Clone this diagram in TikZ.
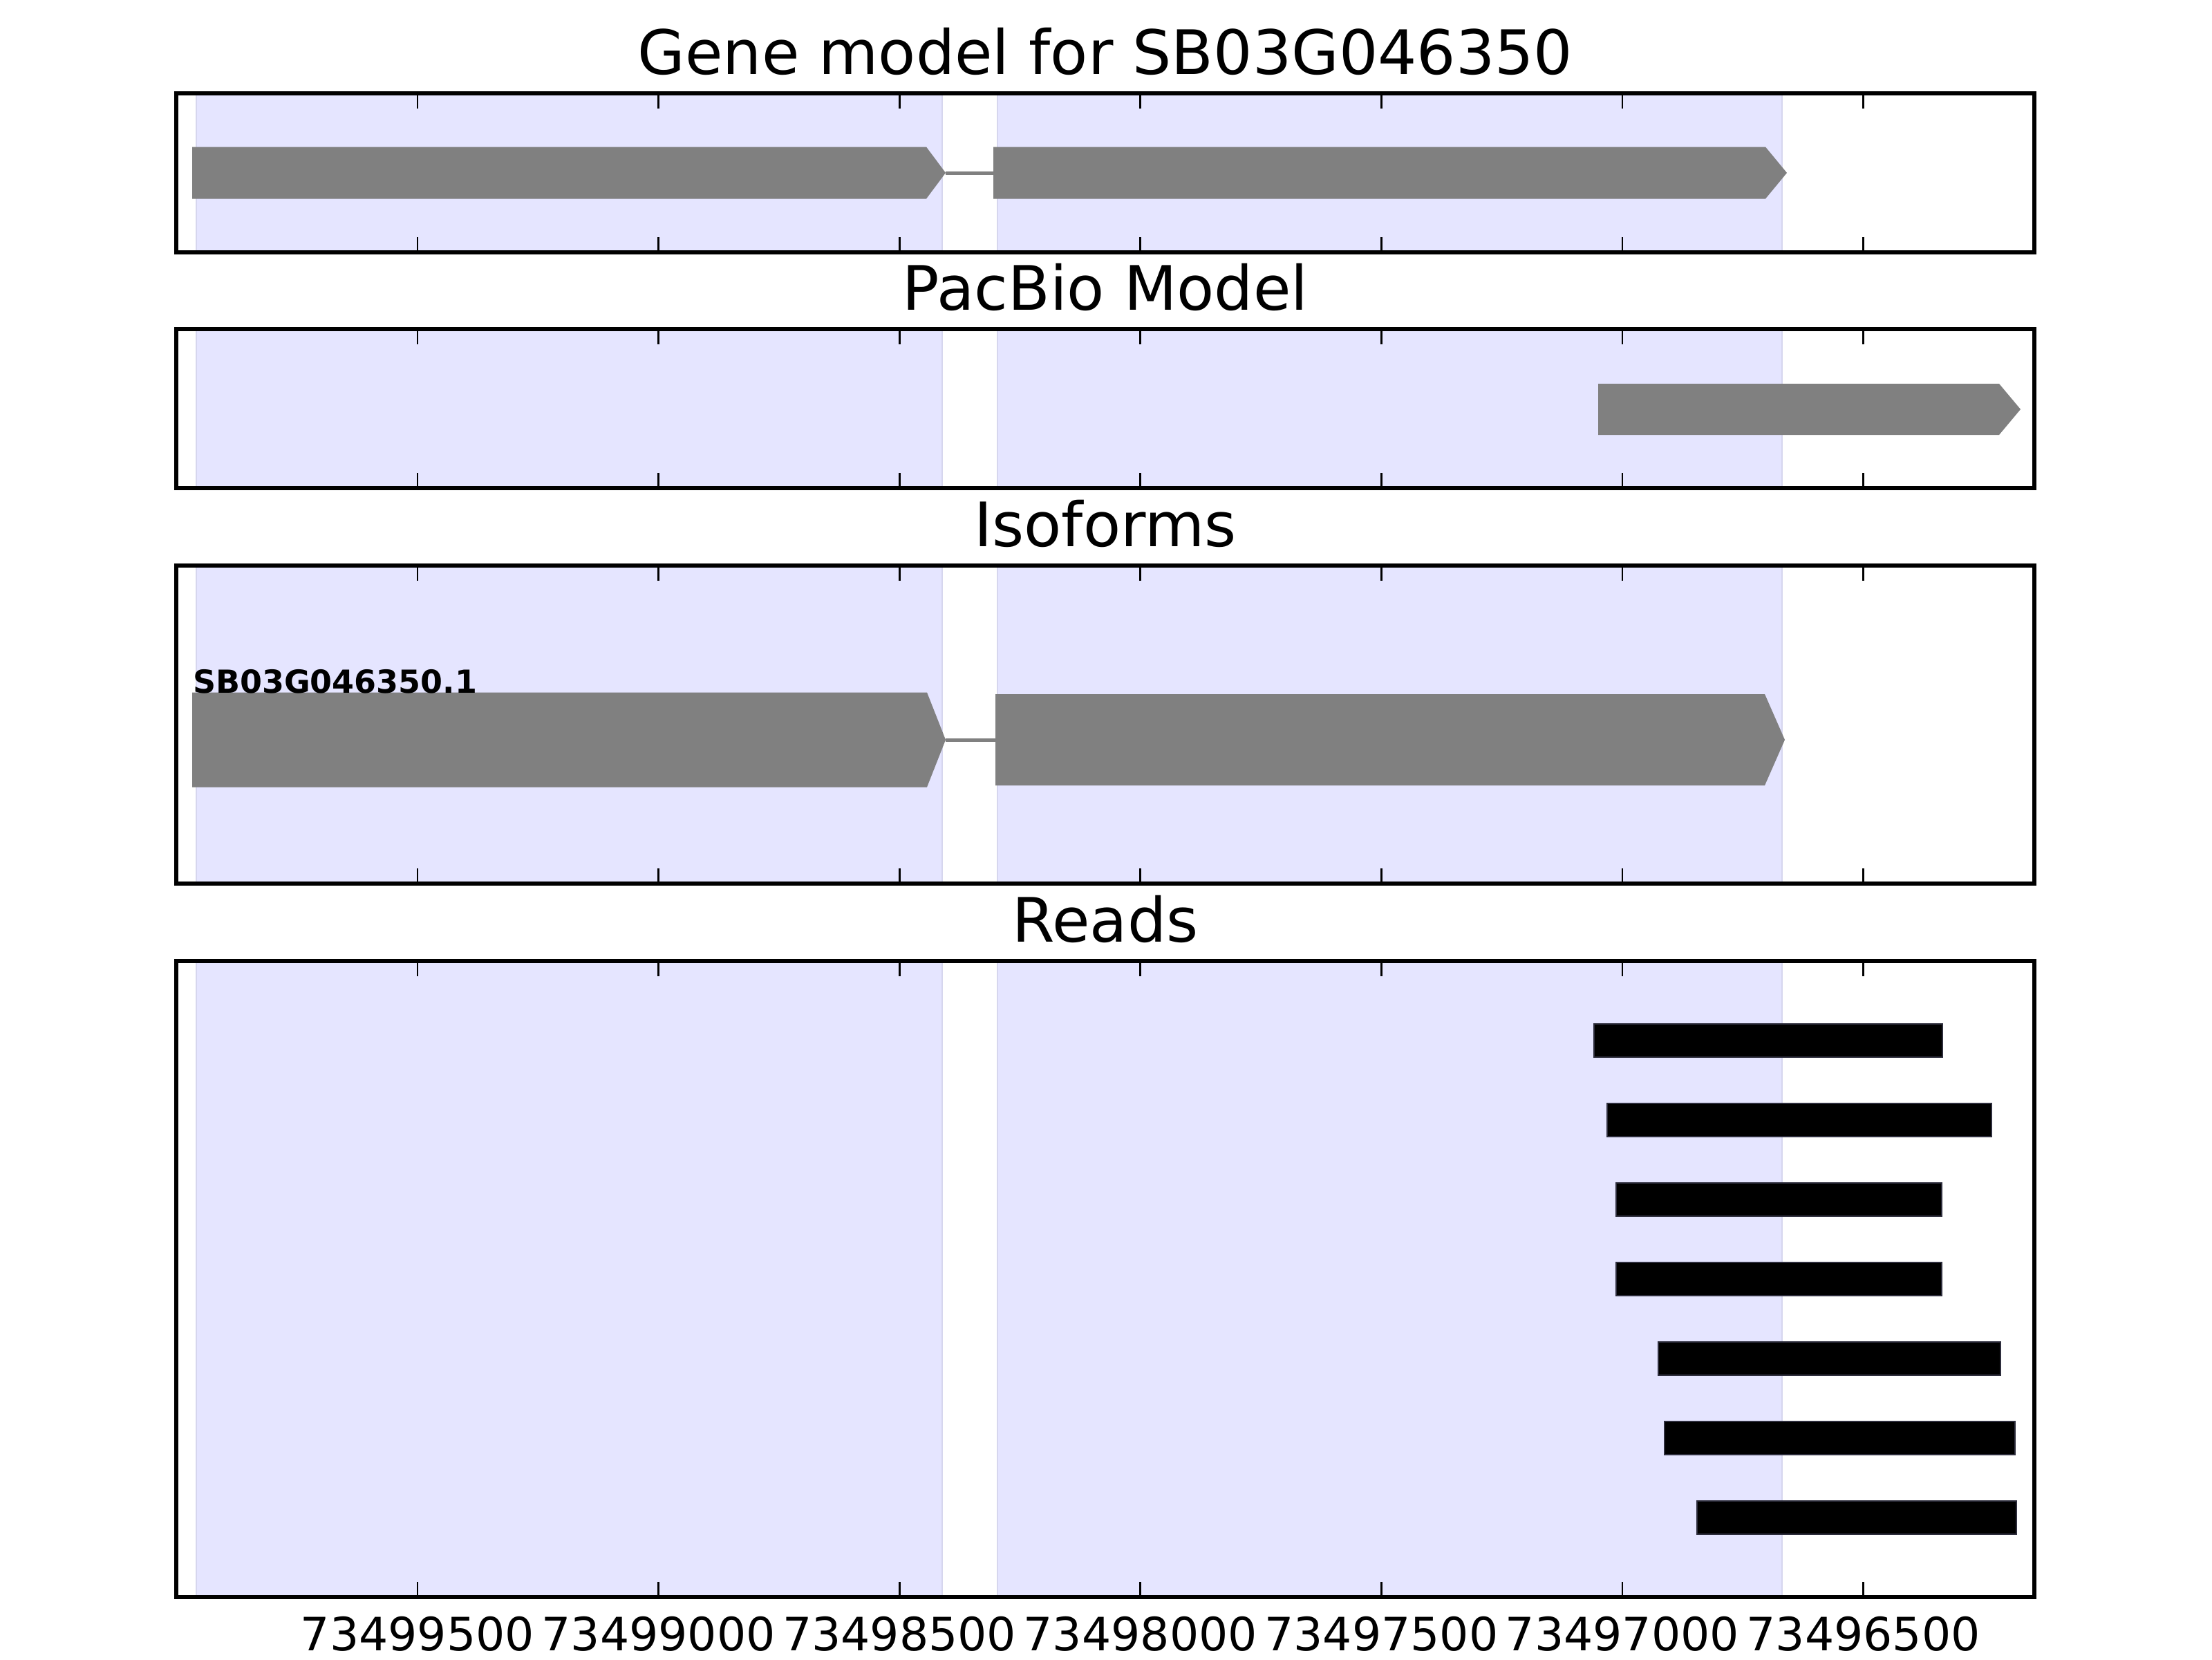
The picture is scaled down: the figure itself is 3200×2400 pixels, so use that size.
\documentclass[tikz,border=0pt]{standalone}
\usepackage{fontspec}
\setmainfont{DejaVu Sans}
\usepackage{xcolor}
\usetikzlibrary{positioning}
\definecolor{exongray}{RGB}{128,128,128}
\definecolor{spanfill}{RGB}{229,229,255}
\definecolor{spanedge}{RGB}{214,214,238}
\definecolor{readedge}{RGB}{45,45,60}
% exon: name, start, body end, tip, centre, half height
\newcommand{\exonbox}[6]{%
  \fill[exon] (#2,#5-#6) -- (#3,#5-#6) -- (#4,#5) -- (#3,#5+#6) -- (#2,#5+#6) -- cycle;
  \coordinate (#1-in) at (#2,#5);
  \coordinate (#1-out) at (#4,#5);
}
\def\panels{gene/135/365,pacbio/476/706,iso/818/1278,reads/1390/2310}

\begin{document}
\begin{tikzpicture}[
    x=0.00635cm, y=-0.00635cm,
    frame/.style={draw=black,line width=1pt},
    span/.style={fill=spanfill,draw=spanedge,line width=0.4pt},
    exon/.style={fill=exongray},
    intron/.style={draw=exongray,line width=0.9pt},
    read/.style={fill=black,draw=readedge,line width=0.3pt},
    tickmark/.style={line width=0.5pt},
    ptitle/.style={font=\fontsize{16}{19}\selectfont,anchor=base,inner sep=0pt},
    ticklabel/.style={font=\fontsize{12}{14}\selectfont,anchor=base,inner sep=0pt},
    isolabel/.style={font=\fontsize{8.3}{10}\selectfont\bfseries,anchor=base west,inner sep=0pt}
  ]
    \useasboundingbox (0,0) rectangle (3200,2400);

    % shaded exon spans
    \foreach \p/\t/\b in \panels {
      \path[span] (284,\t) rectangle (1363,\b);
      \path[span] (1443,\t) rectangle (2578,\b);
    }

    % gene model
    \exonbox{g1}{278}{1340}{1368}{250}{37.5}
    \exonbox{g2}{1437}{2554}{2585}{250}{37.5}
    \draw[intron] (g1-out) -- (g2-in);

    % pacbio model
    \exonbox{pb}{2312}{2892}{2923}{592}{37}

    % isoforms
    \exonbox{i1}{278}{1341}{1368}{1070}{68.5}
    \exonbox{i2}{1440}{2553}{2582}{1070}{66}
    \draw[intron] (i1-out) -- (i2-in);
    \node[isolabel] (isoname) at (278,1002) {SB03G046350.1};

    % reads
    \foreach \i/\s/\e in {1/2306/2810,2/2325/2881,3/2338/2809,4/2338/2809,
                          5/2399/2894,6/2408/2915,7/2455/2917}
      \draw[read] (\s,1390+115*\i-24) rectangle (\e,1390+115*\i+24);

    % frames and ticks
    \foreach \p/\t/\b in \panels {
      \foreach \k in {0,...,6} {
        \draw[tickmark] (604+348.6*\k,\t) -- ++(0,22);
        \draw[tickmark] (604+348.6*\k,\b) -- ++(0,-22);
      }
      \draw[frame] (255,\t) rectangle (2943,\b);
    }

    % titles
    \node[ptitle] (t-gene) at (1599,107) {Gene model for SB03G046350};
    \node[ptitle] (t-pacbio) at (1599,448) {PacBio Model};
    \node[ptitle] (t-iso) at (1599,790) {Isoforms};
    \node[ptitle] (t-reads) at (1599,1362) {Reads};

    % axis labels
    \foreach \k/\lab in {0/73499500,1/73499000,2/73498500,3/73498000,
                         4/73497500,5/73497000,6/73496500}
      \node[ticklabel] (tl\k) at (604+348.6*\k,2387) {\lab};
  \end{tikzpicture}
\end{document}
